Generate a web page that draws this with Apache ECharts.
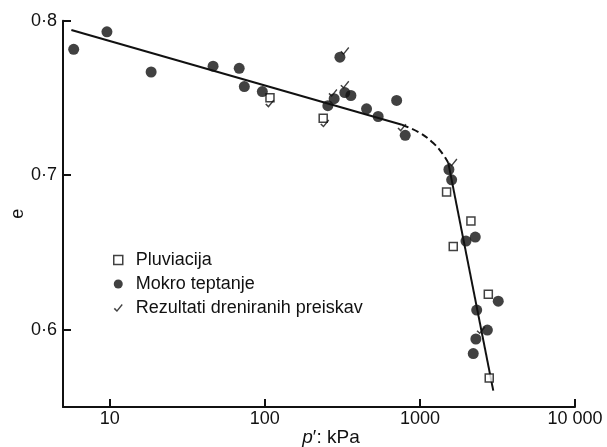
<!DOCTYPE html>
<html>
<head>
<meta charset="utf-8">
<script src="https://cdn.jsdelivr.net/npm/echarts@6/dist/echarts.min.js"></script>
<style>
html,body{margin:0;padding:0;background:#fff;}
#chart{width:607px;height:447px;}
</style>
</head>
<body>
<div id="chart"></div>
<script>
// Pluviacija (hollow squares)
const pluviacijaP = [108, 238, 1486, 2133, 1641, 2761, 2799];
const pluviacijaE = [0.7501, 0.7369, 0.6892, 0.6703, 0.6538, 0.6230, 0.5688];
// Mokro teptanje (filled circles)
const mokroP = [5.86, 9.6, 18.5, 46.4, 68.4, 73.8, 96.4, 305, 255, 280, 328, 359, 453, 538, 708, 804, 1538, 1602, 1982, 2275, 3200, 2324, 2723, 2296, 2208];
const mokroE = [0.7815, 0.7928, 0.7668, 0.7706, 0.7692, 0.7574, 0.7541, 0.7764, 0.7450, 0.7495, 0.7535, 0.7516, 0.7430, 0.7380, 0.7484, 0.7258, 0.7037, 0.6970, 0.6574, 0.6600, 0.6185, 0.6127, 0.5998, 0.5940, 0.5846];
// Rezultati dreniranih preiskav (check marks)
const drenP = [107.6, 243.6, 328, 328, 275, 766, 1633, 2477];
const drenE = [0.7463, 0.7334, 0.7804, 0.7585, 0.7532, 0.7308, 0.7082, 0.5996];
// Fitted lines
const fitP = [5.66, 766];
const fitE = [0.7940, 0.7327];
const curveP = [766, 1000, 1219, 1413, 1524];
const curveE = [0.7327, 0.7274, 0.7209, 0.7134, 0.7080];
const steepP = [1524, 2972];
const steepE = [0.7080, 0.5606];
// Tick labels
const xTicks = [10, 100, 1000, 10000];
const xTickLabels = ['10', '100', '1000', '10 000'];
const yTicks = [0.6, 0.7, 0.8];
const yTickLabels = ['0·6', '0·7', '0·8'];

const zip = (a, b) => a.map((v, i) => [v, b[i]]);
const checkPath = 'path://M0,5.6 L1.3,4.4 L3.6,6.8 L9,0 L10.2,1.1 L3.7,9.2 Z';
const FONT = 'Liberation Sans';

const chart = echarts.init(document.getElementById('chart'), null, {renderer: 'canvas'});
chart.setOption({
  animation: false,
  backgroundColor: '#fff',
  grid: {left: 63, right: 32, top: 20.7, bottom: 40, containLabel: false, outerBoundsMode: 'none'},
  legend: {
    orient: 'vertical',
    left: 108,
    top: 246,
    itemWidth: 9,
    itemHeight: 9,
    itemGap: 6,
    textStyle: {fontFamily: FONT, fontSize: 18, color: '#111', padding: [0, 0, 0, 8]},
    data: [
      {name: 'Pluviacija', icon: 'rect', itemStyle: {color: '#fff', borderColor: '#111', borderWidth: 1.5}},
      {name: 'Mokro teptanje', icon: 'circle'},
      {name: 'Rezultati dreniranih preiskav', icon: checkPath}
    ]
  },
  xAxis: {
    type: 'log',
    logBase: 10,
    min: 5,
    max: 10000,
    axisLine: {lineStyle: {color: '#111', width: 2}},
    axisTick: {inside: true, length: 8, lineStyle: {color: '#111', width: 2}, customValues: xTicks},
    axisLabel: {
      customValues: xTicks,
      fontFamily: FONT, fontSize: 18, color: '#111', margin: 3,
      formatter: v => { const i = xTicks.findIndex(t => Math.abs(t - v) / t < 1e-6); return i >= 0 ? xTickLabels[i] : ''; }
    },
    splitLine: {show: false},
    minorTick: {show: false},
    name: '{i|p}′: kPa',
    nameLocation: 'middle',
    nameGap: 21,
    nameMoveOverlap: false,
    nameTextStyle: {
      fontFamily: FONT, fontSize: 19, color: '#111',
      padding: [0, 0, 0, 24],
      rich: {i: {fontFamily: FONT, fontSize: 19, fontStyle: 'italic', color: '#111'}}
    }
  },
  yAxis: {
    type: 'value',
    min: 0.55,
    max: 0.8,
    axisLine: {show: true, lineStyle: {color: '#111', width: 2}},
    axisTick: {show: true, inside: true, length: 8, lineStyle: {color: '#111', width: 2}, customValues: yTicks},
    axisLabel: {
      customValues: yTicks,
      fontFamily: FONT, fontSize: 18, color: '#111', margin: 6,
      formatter: v => { const i = yTicks.findIndex(t => Math.abs(t - v) < 1e-6); return i >= 0 ? yTickLabels[i] : ''; }
    },
    splitLine: {show: false},
    name: 'e',
    nameLocation: 'middle',
    nameRotate: 90,
    nameGap: 36,
    nameMoveOverlap: false,
    nameTextStyle: {fontFamily: FONT, fontSize: 18, color: '#111'}
  },
  series: [
    {type: 'line', name: 'fit', data: zip(fitP, fitE), showSymbol: false, silent: true,
     lineStyle: {color: '#111', width: 2}, z: 1},
    {type: 'line', name: 'curve', data: zip(curveP, curveE), showSymbol: false, silent: true, smooth: 0.4,
     lineStyle: {color: '#111', width: 2, type: [7, 4]}, z: 1},
    {type: 'line', name: 'steep', data: zip(steepP, steepE), showSymbol: false, silent: true,
     lineStyle: {color: '#111', width: 2}, z: 1},
    {type: 'scatter', name: 'Pluviacija', data: zip(pluviacijaP, pluviacijaE), symbol: 'rect', symbolSize: 8,
     itemStyle: {color: '#fff', borderColor: '#111', borderWidth: 1.5}, z: 3},
    {type: 'scatter', name: 'Mokro teptanje', data: zip(mokroP, mokroE), symbol: 'circle', symbolSize: 11,
     itemStyle: {color: '#111'}, z: 4},
    {type: 'scatter', name: 'Rezultati dreniranih preiskav', data: zip(drenP, drenE), symbol: checkPath, symbolSize: [9, 8],
     itemStyle: {color: '#111'}, z: 5}
  ]
});
</script>
</body>
</html>
